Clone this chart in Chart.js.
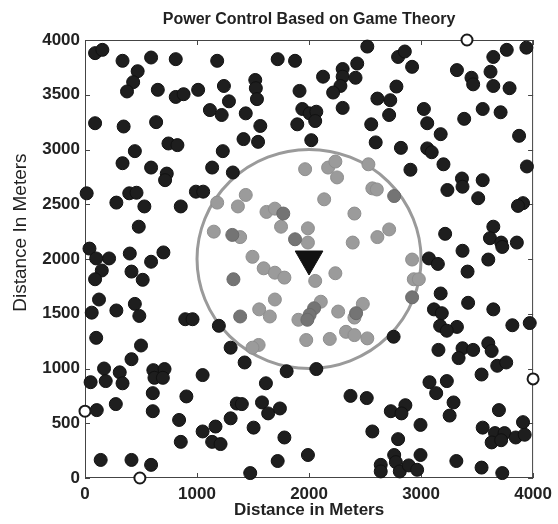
<!DOCTYPE html>
<html><head><meta charset="utf-8">
<script src="https://cdn.jsdelivr.net/npm/chart.js@4.4.1/dist/chart.umd.min.js"></script>
<style>html,body{margin:0;padding:0;background:#fff}#wrap{width:558px;height:524px;position:relative}</style>
</head><body><div id="wrap"><canvas id="c"></canvas></div>
<script>
const titleText = 'Power Control Based on Game Theory';
const xTitle = 'Distance in Meters';
const yTitle = 'Distance In Meters';
const xTicks = [0, 1000, 2000, 3000, 4000];
const yTicks = [0, 500, 1000, 1500, 2000, 2500, 3000, 3500, 4000];

const outerNodes = [
[90,3880],[155,3910],[335,3810],[590,3840],[810,3825],[1180,3810],[470,3715],[430,3615],[375,3530],[650,3545],[810,3480],[880,3505],[1010,3545],[1240,3580],[1285,3440],[1115,3360],[1220,3315],[90,3240],[345,3210],[635,3250],[745,3055],[825,3040],[445,2985],[1230,2985],[335,2875],[590,2835],[730,2780],[715,2720],[1135,2835],[1320,2790],
[2520,3940],[1720,3825],[1875,3810],[1520,3635],[1525,3560],[1535,3460],[2125,3665],[2300,3735],[2430,3785],[2300,3665],[2415,3655],[2280,3580],[2215,3520],[1915,3535],[2610,3465],[1435,3330],[1940,3370],[2005,3330],[2065,3345],[2055,3260],[2300,3380],[1565,3215],[1895,3230],[2555,3230],[1415,3095],[1545,3070],[2020,3085],[2595,3065],
[3940,3930],[3765,3910],[3645,3845],[2795,3845],[2855,3895],[2920,3755],[3320,3725],[3450,3655],[3465,3595],[3620,3710],[3645,3580],[3790,3560],[2780,3575],[2725,3450],[3025,3370],[3550,3370],[3710,3340],[2715,3315],[3055,3240],[3385,3280],[3175,3140],[3875,3125],[2820,3015],[3055,3010],[3095,2975],[3200,2865],[2905,2815],[3945,2845],[3365,2735],[3550,2720],
[15,2600],[395,2600],[460,2605],[280,2515],[530,2480],[855,2480],[990,2615],[1055,2615],[480,2295],[40,2095],[100,2005],[215,2005],[400,2050],[590,1975],[700,2060],[150,1895],[90,1815],[415,1885],[515,1810],[125,1630],[60,1510],[280,1530],[445,1590],[485,1480],[895,1450],[960,1450],[1195,1390],
[3235,2630],[3370,2660],[3510,2555],[3910,2510],[3865,2485],[3645,2295],[3615,2190],[3715,2150],[3725,2110],[3855,2150],[3215,2230],[3370,2075],[3070,2005],[3150,1955],[3600,1995],[3415,1885],[3175,1685],[3420,1600],[3115,1540],[3185,1505],[3645,1540],[3170,1390],[3320,1380],[3815,1395],[3970,1415],
[100,1280],[500,1210],[415,1085],[170,1000],[310,965],[335,865],[185,885],[50,875],[610,985],[710,995],[620,915],[695,915],[1050,940],[605,775],[905,745],[275,675],[105,620],[605,610],[840,530],[1300,545],[1050,425],[1165,470],[1135,330],[1210,310],[855,330],[1300,1190],[140,165],[415,165],[590,120],
[1425,1055],[1800,975],[2065,995],[1615,865],[2370,750],[2515,730],[1355,680],[1400,675],[1580,690],[1635,590],[1740,635],[1505,460],[1780,370],[2565,425],[1990,210],[1720,155],[1475,45],
[2755,1290],[3230,1345],[3155,1170],[3370,1185],[3465,1170],[3335,1095],[3600,1230],[3630,1160],[3680,1025],[3760,1055],[3540,945],[3075,875],[3230,885],[3135,775],[3290,690],[2860,665],[2730,610],[2825,590],[3255,570],[3695,620],[2995,485],[3550,460],[3660,410],[3630,325],[3745,410],[3715,345],[3845,370],[3925,395],[3910,510],[2795,355],[2760,210],[2775,145],[2810,60],[2890,115],[2965,75],[2640,120],[2640,60],[2995,210],[3315,155],[3540,95],[3725,45]
];
const innerNodes = [
[1965,2820],[2170,2835],[2235,2890],[2250,2745],[2530,2865],[1180,2515],[1150,2250],[1435,2585],[1365,2480],[1620,2430],[1695,2460],[1750,2295],[2135,2545],[2565,2645],[2605,2635],[2405,2415],[1385,2200],[1990,2280],[1990,2150],[2390,2150],[2610,2200],[1495,2020],[1595,1915],[1695,1875],[1780,1830],[2055,1800],[2235,1870],[1695,1630],[1555,1540],[1650,1475],[2105,1610],[1905,1445],[2260,1520],[2480,1590],[2405,1465],[2715,2270],[2920,1995],[2935,1815],[2980,1815],[1975,1260],[2185,1270],[2330,1335],[2405,1305],[2520,1275],[1550,1215],[1495,1190]
];
const innerNodesDark = [
[1770,2415],[1315,2220],[1875,2180],[1325,1815],[1385,1475],[2045,1550],[2005,1490],[1985,1445],[2420,1505],[2760,2575],[2920,1650]
];
const edgeNodes = [[3410,4000],[0,610],[490,0],[4000,905]];
const baseStation = [[2000,2000]];
const coverageCenter = [2000, 2000];
const coverageRadius = 1000;

const SANS = '"Liberation Sans", Arial, Helvetica, sans-serif';
const toXY = a => a.map(p => ({x: p[0], y: p[1]}));

const framePlugin = {
  id: 'frame',
  beforeDatasetsDraw(chart) {
    const {ctx, chartArea: a, scales: {x, y}} = chart;
    ctx.save();
    const cx = x.getPixelForValue(coverageCenter[0]), cy = y.getPixelForValue(coverageCenter[1]);
    const rx = Math.abs(x.getPixelForValue(coverageCenter[0] + coverageRadius) - cx);
    const ry = Math.abs(y.getPixelForValue(coverageCenter[1] + coverageRadius) - cy);
    ctx.beginPath(); ctx.ellipse(cx, cy, rx, ry, 0, 0, Math.PI * 2);
    ctx.strokeStyle = '#9a9a9a'; ctx.lineWidth = 3; ctx.stroke();
    ctx.strokeStyle = '#444'; ctx.lineWidth = 1;
    ctx.strokeRect(a.left + 0.5, a.top + 0.5, a.width - 1, a.height - 1);
    ctx.beginPath();
    xTicks.forEach(v => { const px = Math.round(x.getPixelForValue(v)) + 0.5;
      ctx.moveTo(px, a.bottom); ctx.lineTo(px, a.bottom - 5);
      ctx.moveTo(px, a.top); ctx.lineTo(px, a.top + 5); });
    yTicks.forEach(v => { const py = Math.round(y.getPixelForValue(v)) + 0.5;
      ctx.moveTo(a.left, py); ctx.lineTo(a.left + 5, py);
      ctx.moveTo(a.right, py); ctx.lineTo(a.right - 5, py); });
    ctx.stroke();
    ctx.restore();
  }
};

new Chart(document.getElementById('c'), {
  type: 'scatter',
  data: { datasets: [
    { label: 'Base station', data: toXY(baseStation), pointStyle: 'triangle', rotation: 180, radius: 16,
      backgroundColor: '#111', borderColor: '#111', borderWidth: 1, clip: false },
    { label: 'Edge nodes', data: toXY(edgeNodes), radius: 5.5, backgroundColor: '#fff', borderColor: '#1a1a1a', borderWidth: 2, clip: false },
    { label: 'Inner dark', data: toXY(innerNodesDark), radius: 6.5, backgroundColor: '#747474', borderColor: '#6a6a6a', borderWidth: 1, clip: false },
    { label: 'Inner nodes', data: toXY(innerNodes), radius: 6.5, backgroundColor: '#9b9b9b', borderColor: '#8e8e8e', borderWidth: 1, clip: false },
    { label: 'Outer nodes', data: toXY(outerNodes), radius: 6.5, backgroundColor: '#1e1e1e', borderColor: '#111', borderWidth: 1, clip: false }
  ]},
  options: {
    responsive: true, maintainAspectRatio: false, animation: false,
    layout: { padding: { left: 0, right: 21, top: 0, bottom: 0 } },
    plugins: {
      legend: { display: false }, tooltip: { enabled: false },
      title: { display: true, text: titleText, fullSize: false, color: '#222',
        font: { family: SANS, size: 16, weight: 'bold' }, padding: { top: 10, bottom: 10.8 } }
    },
    scales: {
      x: { type: 'linear', min: 0, max: 4000,
        afterBuildTicks: s => { s.ticks = xTicks.map(v => ({value: v})); },
        afterFit: s => { s.height = 46; },
        grid: { display: false, drawTicks: false }, border: { display: false },
        ticks: { color: '#222', padding: 6, callback: v => String(v), font: { family: SANS, size: 17, weight: 'bold' } },
        title: { display: true, text: xTitle, color: '#222', padding: { top: 0, bottom: 3 },
          font: { family: SANS, size: 17, weight: 'bold' } } },
      y: { type: 'linear', min: 0, max: 4000,
        afterBuildTicks: s => { s.ticks = yTicks.map(v => ({value: v})); },
        afterFit: s => { s.width = 85; },
        grid: { display: false, drawTicks: false }, border: { display: false },
        ticks: { color: '#222', padding: 5, callback: v => String(v), font: { family: SANS, size: 17, weight: 'bold' } },
        title: { display: true, text: '          ' + yTitle, color: '#222', padding: { top: 9, bottom: 0 },
          font: { family: SANS, size: 19, weight: 'normal' } } }
    }
  },
  plugins: [framePlugin]
});
</script></body></html>
